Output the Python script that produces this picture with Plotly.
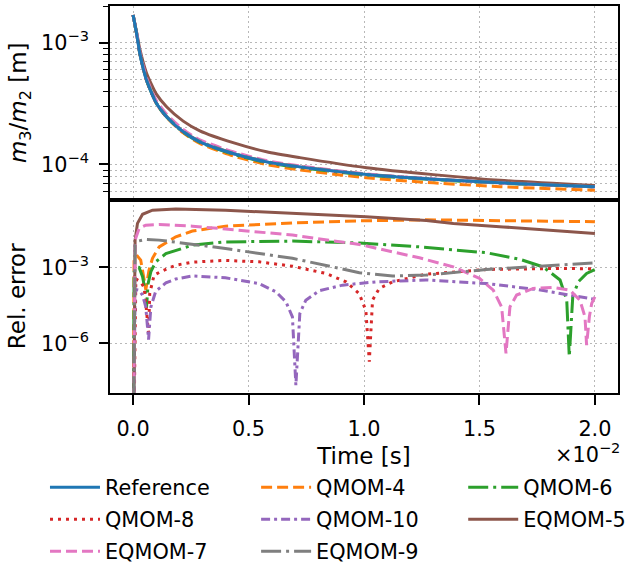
import plotly.graph_objects as go

# ---------------- data (time in units of 1e-2 s) ----------------
t_top = [0, 0.015, 0.029, 0.058, 0.101, 0.145, 0.217, 0.289, 0.433, 0.578, 0.722, 1.011, 1.30, 1.589, 2.0]

top_reference = [1.690e-3, 1.194e-3, 8.18e-4, 4.93e-4, 3.18e-4, 2.47e-4, 1.854e-4, 1.535e-4, 1.230e-4, 1.050e-4, 9.55e-5, 8.28e-5, 7.57e-5, 7.06e-5, 6.55e-5]
top_qmom4 = [1.690e-3, 1.190e-3, 8.16e-4, 4.925e-4, 3.17e-4, 2.44e-4, 1.817e-4, 1.489e-4, 1.177e-4, 9.97e-5, 9.02e-5, 7.76e-5, 7.06e-5, 6.57e-5, 6.13e-5]
top_qmom6 = [1.690e-3, 1.193e-3, 8.17e-4, 4.93e-4, 3.17e-4, 2.45e-4, 1.837e-4, 1.520e-4, 1.215e-4, 1.037e-4, 9.44e-5, 8.18e-5, 7.50e-5, 7.02e-5, 6.54e-5]
top_qmom8 = [1.690e-3, 1.194e-3, 8.18e-4, 4.93e-4, 3.18e-4, 2.47e-4, 1.856e-4, 1.537e-4, 1.232e-4, 1.051e-4, 9.56e-5, 8.28e-5, 7.57e-5, 7.06e-5, 6.55e-5]
top_qmom10 = [1.690e-3, 1.194e-3, 8.18e-4, 4.93e-4, 3.18e-4, 2.47e-4, 1.855e-4, 1.536e-4, 1.231e-4, 1.050e-4, 9.55e-5, 8.28e-5, 7.57e-5, 7.06e-5, 6.55e-5]
top_eqmom5 = [1.690e-3, 1.23e-3, 8.9e-4, 5.65e-4, 3.78e-4, 2.98e-4, 2.27e-4, 1.89e-4, 1.51e-4, 1.27e-4, 1.138e-4, 9.4e-5, 8.25e-5, 7.41e-5, 6.71e-5]
top_eqmom7 = [1.690e-3, 1.218e-3, 8.47e-4, 5.15e-4, 3.34e-4, 2.59e-4, 1.937e-4, 1.596e-4, 1.271e-4, 1.076e-4, 9.73e-5, 8.35e-5, 7.59e-5, 7.06e-5, 6.55e-5]
top_eqmom9 = [1.690e-3, 1.203e-3, 8.28e-4, 4.99e-4, 3.21e-4, 2.49e-4, 1.871e-4, 1.547e-4, 1.238e-4, 1.056e-4, 9.59e-5, 8.30e-5, 7.58e-5, 7.07e-5, 6.56e-5]

t_qmom4 = [0, 0.0043, 0.019, 0.033, 0.048, 0.055, 0.069, 0.084, 0.113, 0.185, 0.257, 0.40, 0.69, 0.98, 1.27, 1.60, 2.0]
err_qmom4 = [1e-12, 2.3e-3, 2.8e-3, 1.95e-3, 3.2e-4, 1.3e-4, 7.8e-4, 2.3e-3, 6.5e-3, 1.62e-2, 2.75e-2, 4.27e-2, 5.75e-2, 6.9e-2, 7.6e-2, 7.2e-2, 6.4e-2]

t_qmom6 = [0, 0.0043, 0.012, 0.026, 0.041, 0.052, 0.058, 0.065, 0.077, 0.098, 0.142, 0.257, 0.40, 0.69, 0.98, 1.24, 1.531, 1.675, 1.776, 1.849, 1.878, 1.889, 1.904, 1.928, 1.964, 2.0]
err_qmom6 = [1e-12, 6.8e-4, 1.05e-3, 1.0e-3, 4.3e-4, 1.26e-4, 2.5e-5, 2.3e-4, 6.8e-4, 1.66e-3, 3.5e-3, 7.6e-3, 1.02e-2, 1.1e-2, 9.3e-3, 6.5e-3, 3.8e-3, 2.1e-3, 1.05e-3, 3.2e-4, 5.1e-5, 3.0e-7, 6.9e-5, 2.7e-4, 5.8e-4, 8.3e-4]

t_qmom8 = [0, 0.012, 0.033, 0.048, 0.058, 0.067, 0.072, 0.091, 0.127, 0.185, 0.257, 0.40, 0.546, 0.69, 0.835, 0.922, 0.979, 1.008, 1.023, 1.037, 1.066, 1.124, 1.268, 1.531, 1.82, 2.0]
err_qmom8 = [1e-12, 3.5e-4, 2.7e-4, 1.6e-4, 2.0e-5, 2.5e-6, 9.3e-5, 5.0e-4, 7.4e-4, 1.23e-3, 1.62e-3, 1.9e-3, 1.66e-3, 1.12e-3, 5.8e-4, 2.7e-4, 9.3e-5, 2.0e-5, 1.9e-7, 5.1e-5, 1.48e-4, 2.7e-4, 5.4e-4, 8.3e-4, 9.1e-4, 8.9e-4]

t_qmom10 = [0, 0.0087, 0.026, 0.041, 0.055, 0.067, 0.077, 0.098, 0.142, 0.185, 0.257, 0.40, 0.546, 0.618, 0.662, 0.69, 0.705, 0.722, 0.748, 0.806, 0.907, 1.052, 1.268, 1.531, 1.748, 1.892, 2.0]
err_qmom10 = [1e-12, 1.35e-4, 1.26e-4, 8.1e-5, 2.75e-5, 1.4e-6, 2.75e-5, 1.15e-4, 2.45e-4, 3.5e-4, 4.6e-4, 3.9e-4, 2.3e-4, 1.1e-4, 4.4e-5, 1.12e-5, 2.2e-8, 1.5e-5, 5.1e-5, 1.2e-4, 2.0e-4, 2.7e-4, 3.2e-4, 2.3e-4, 1.35e-4, 8.1e-5, 5.5e-5]

t_eqmom5 = [0, 0.0087, 0.019, 0.041, 0.084, 0.185, 0.40, 0.546, 0.835, 1.008, 1.27, 1.387, 1.603, 2.0]
err_eqmom5 = [1e-12, 1.2e-2, 5.5e-2, 1.26e-1, 1.82e-1, 2.04e-1, 1.82e-1, 1.58e-1, 1.15e-1, 1.0e-1, 7.1e-2, 5.4e-2, 4.0e-2, 2.2e-2]

t_eqmom7 = [0, 0.0087, 0.026, 0.055, 0.113, 0.257, 0.40, 0.69, 0.98, 1.24, 1.387, 1.50, 1.56, 1.596, 1.615, 1.632, 1.661, 1.733, 1.82, 1.892, 1.935, 1.957, 1.964, 1.976, 1.986, 2.0]
err_eqmom7 = [1e-12, 1.2e-2, 3.47e-2, 4.68e-2, 5.0e-2, 4.27e-2, 3.3e-2, 1.9e-2, 8.1e-3, 2.4e-3, 1.05e-3, 3.7e-4, 1.26e-4, 2.75e-5, 4.0e-7, 2.75e-5, 8.1e-5, 1.48e-4, 1.62e-4, 1.26e-4, 5.1e-5, 1.12e-5, 8.5e-7, 1.12e-5, 3.8e-5, 6.9e-5]

t_eqmom9 = [0, 0.0087, 0.026, 0.055, 0.113, 0.257, 0.40, 0.69, 0.98, 1.124, 1.27, 1.531, 1.82, 2.0]
err_eqmom9 = [1e-12, 7.6e-3, 1.12e-2, 1.29e-2, 1.2e-2, 8.3e-3, 5.6e-3, 2.3e-3, 6.2e-4, 4.6e-4, 5.0e-4, 8.3e-4, 1.23e-3, 1.51e-3]

x_tick_vals = [0.0, 0.5, 1.0, 1.5, 2.0]
x_tick_text = ["0.0", "0.5", "1.0", "1.5", "2.0"]
top_tick_vals = [1e-4, 1e-3]
top_tick_text = ["10<sup>\u22124</sup>", "10<sup>\u22123</sup>"]
top_minor_vals = [6e-5, 7e-5, 8e-5, 9e-5, 2e-4, 3e-4, 4e-4, 5e-4, 6e-4, 7e-4, 8e-4, 9e-4, 2e-3]
bot_tick_vals = [1e-6, 1e-3]
bot_tick_text = ["10<sup>\u22126</sup>", "10<sup>\u22123</sup>"]

# ---------------- styles ----------------
FONT = "DejaVu Sans"
FS = 20.8
FS_TITLE = 23
LW = 3
DASHED = "11px,5px"
DOTTED = "3px,5px"
DASHDOT = "20px,5px,3px,5px"
DASHDOT2 = "9px,4px,3px,4px"

series = [
    # name, color, dash, top values, t err, err, legend, rank
    ("QMOM-4", "#ff7f0e", DASHED, top_qmom4, t_qmom4, err_qmom4, "legend2", 1),
    ("QMOM-6", "#2ca02c", DASHDOT, top_qmom6, t_qmom6, err_qmom6, "legend3", 1),
    ("QMOM-8", "#d62728", DOTTED, top_qmom8, t_qmom8, err_qmom8, "legend", 2),
    ("QMOM-10", "#9467bd", DASHDOT2, top_qmom10, t_qmom10, err_qmom10, "legend2", 2),
    ("EQMOM-5", "#8c564b", "solid", top_eqmom5, t_eqmom5, err_eqmom5, "legend3", 2),
    ("EQMOM-7", "#e377c2", DASHED, top_eqmom7, t_eqmom7, err_eqmom7, "legend", 3),
    ("EQMOM-9", "#7f7f7f", DASHDOT, top_eqmom9, t_eqmom9, err_eqmom9, "legend2", 3),
]

fig = go.Figure()

for name, color, dash, topv, te, ev, leg, rank in series:
    fig.add_trace(go.Scatter(
        x=t_top, y=topv, mode="lines", name=name,
        line=dict(color=color, width=LW, dash=dash, shape="spline", smoothing=0.6),
        xaxis="x2", yaxis="y2", legend=leg, legendrank=rank, legendgroup=name,
        showlegend=True))

fig.add_trace(go.Scatter(
    x=t_top, y=top_reference, mode="lines", name="Reference",
    line=dict(color="#1f77b4", width=LW, shape="spline", smoothing=0.6),
    xaxis="x2", yaxis="y2", legend="legend", legendrank=1, legendgroup="Reference",
    showlegend=True))

for name, color, dash, topv, te, ev, leg, rank in series:
    fig.add_trace(go.Scatter(
        x=te, y=ev, mode="lines", name=name,
        line=dict(color=color, width=LW, dash=dash),
        xaxis="x", yaxis="y", legendgroup=name, showlegend=False))

GRID = "#b8b8b8"
GRIDDASH = "2px,3px"
axis_common = dict(showline=True, linecolor="black", linewidth=1.7, mirror=True,
                   showgrid=True, gridcolor=GRID, gridwidth=1.2, griddash=GRIDDASH,
                   zeroline=False, tickfont=dict(family=FONT, size=FS, color="black"),
                   tickcolor="black", tickwidth=1.7)

leg_common = dict(orientation="v", xanchor="left", yanchor="top",
                  font=dict(family=FONT, size=FS, color="black"),
                  bgcolor="rgba(0,0,0,0)", borderwidth=0, tracegroupgap=2,
                  traceorder="grouped", itemwidth=50)

LEG_Y = -0.1916

fig.update_layout(
    width=628, height=564,
    margin=dict(l=110, r=10.3, t=6, b=170.7, autoexpand=False),
    paper_bgcolor="white", plot_bgcolor="white",
    font=dict(family=FONT, size=FS, color="black"),
    xaxis=dict(domain=[0, 1], anchor="y", range=[-0.1, 2.1],
               tickmode="array", tickvals=x_tick_vals, ticktext=x_tick_text,
               ticks="outside", ticklen=10, ticklabelstandoff=6,
               title=dict(text="Time [s]", font=dict(family=FONT, size=FS_TITLE), standoff=8),
               **axis_common),
    xaxis2=dict(domain=[0, 1], anchor="y2", range=[-0.1, 2.1], matches="x",
                tickmode="array", tickvals=x_tick_vals, showticklabels=False,
                ticks="", **axis_common),
    yaxis=dict(domain=[0, 0.5], anchor="x", type="log", range=[-7.96, -0.316],
               tickmode="array", tickvals=bot_tick_vals, ticktext=bot_tick_text,
               ticks="outside", ticklen=9, ticklabelstandoff=6,
               title=dict(text="Rel. error", font=dict(family=FONT, size=FS_TITLE), standoff=9),
               **axis_common),
    yaxis2=dict(domain=[0.5, 1], anchor="x2", type="log", range=[-4.288, -2.698],
                tickmode="array", tickvals=top_tick_vals, ticktext=top_tick_text,
                ticks="outside", ticklen=9, ticklabelstandoff=6,
                minor=dict(tickmode="array", tickvals=top_minor_vals, ticks="outside",
                           ticklen=5, tickwidth=1.2, tickcolor="black",
                           showgrid=True, gridcolor=GRID, gridwidth=1.2, griddash=GRIDDASH),
                title=dict(text="<i>m</i><sub>3</sub>/<i>m</i><sub>2</sub> [m]",
                           font=dict(family=FONT, size=FS_TITLE), standoff=8),
                **axis_common),
    legend=dict(x=-0.1280, y=LEG_Y, **leg_common),
    legend2=dict(x=0.2876, y=LEG_Y, **leg_common),
    legend3=dict(x=0.6953, y=LEG_Y, **leg_common),
    annotations=[dict(text="\u00d710<sup>\u22122</sup>", xref="paper", yref="paper",
                      x=1, y=0, xanchor="right", yanchor="middle", xshift=4, yshift=-60,
                      showarrow=False, font=dict(family=FONT, size=FS, color="black"))],
)

fig.write_html("out.html")
